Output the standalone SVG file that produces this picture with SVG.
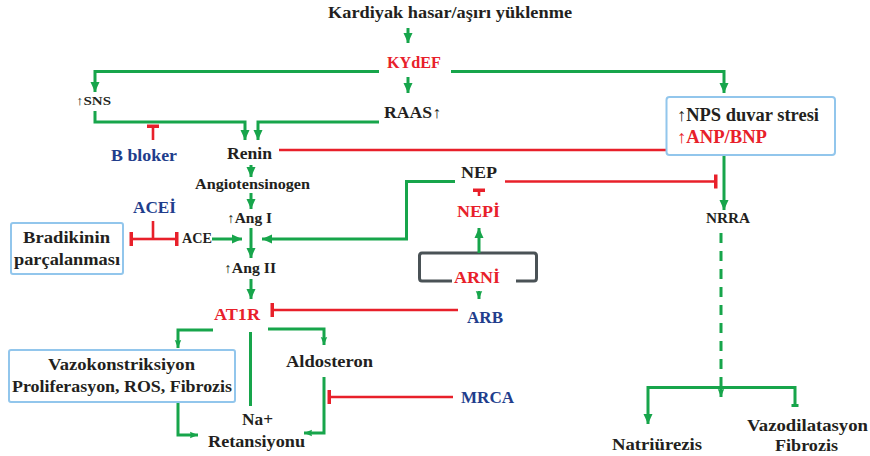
<svg xmlns="http://www.w3.org/2000/svg" width="870" height="456" viewBox="0 0 870 456">
<defs>
<style>
text{font-family:"Liberation Serif","Times New Roman",serif;font-weight:bold;fill:#231f20}
.r{fill:#e8202a}.b{fill:#213d8c}
.g{fill:none;stroke:#17a54b;stroke-width:3}
.rl{fill:none;stroke:#e8202a;stroke-width:2.6}
.box{fill:#fff;stroke:#92c6ec;stroke-width:2}
.gray{fill:none;stroke:#4a5256;stroke-width:3}
.s13{font-size:13px}.s14{font-size:14px}.s15{font-size:15px}.s16{font-size:16px}.s17{font-size:17px}.s18{font-size:18px}
</style>
<marker id="ar" markerUnits="userSpaceOnUse" markerWidth="10" markerHeight="10" viewBox="0 0 10 10" refX="10" refY="5" orient="auto"><path d="M0,0.5 L10,5 L0,9.5 z" fill="#17a54b"/></marker>
<marker id="ars" markerUnits="userSpaceOnUse" markerWidth="8" markerHeight="8" viewBox="0 0 10 10" refX="10" refY="5" orient="auto"><path d="M0,1 Q2,5 0,9 L10,5 z" fill="#17a54b"/></marker>
<marker id="tee" markerUnits="userSpaceOnUse" markerWidth="4" markerHeight="16" viewBox="0 0 4 16" refX="3" refY="8" orient="auto"><rect x="0" y="1" width="3.5" height="14" fill="#e8202a"/></marker>
<marker id="teeS" markerUnits="userSpaceOnUse" markerWidth="4" markerHeight="14" viewBox="0 0 4 14" refX="3" refY="7" orient="auto"><rect x="0" y="1" width="3.5" height="12" fill="#e8202a"/></marker>
<marker id="teeG" markerUnits="userSpaceOnUse" markerWidth="3" markerHeight="8" viewBox="0 0 3 8" refX="2" refY="4" orient="auto"><rect x="0" y="0.5" width="3" height="7" fill="#17a54b"/></marker>
</defs>

<g id="connectors">
<line class="g" x1="408" y1="28" x2="408" y2="43" marker-end="url(#ar)"/>
<line class="g" x1="408" y1="77" x2="408" y2="93" marker-end="url(#ar)"/>
<path class="g" d="M379,71.5 H95 V92" marker-end="url(#ar)"/>
<path class="g" d="M451,71.5 H724 V93" marker-end="url(#ar)"/>
<path class="g" d="M95,111 V122 H245 V140" marker-end="url(#ar)"/>
<path class="g" d="M379,122 H258 V140" marker-end="url(#ar)"/>
<line class="rl" x1="153" y1="140" x2="153" y2="125" marker-end="url(#teeS)"/>
<line class="rl" x1="279" y1="150" x2="667" y2="150"/>
<line class="g" x1="251" y1="165" x2="251" y2="177" marker-end="url(#ar)"/>
<line class="g" x1="251" y1="193" x2="251" y2="209" marker-end="url(#ar)"/>
<line class="g" x1="212" y1="239" x2="242" y2="239" marker-end="url(#ar)"/>
<line class="g" x1="251" y1="228" x2="251" y2="258" marker-end="url(#ar)"/>
<path class="g" d="M455,181.5 H406.5 V239 H262" marker-end="url(#ar)"/>
<line class="g" x1="251" y1="279" x2="251" y2="299" marker-end="url(#ar)"/>
<line class="rl" x1="153" y1="239" x2="130" y2="239" marker-end="url(#tee)"/>
<line class="rl" x1="153" y1="239" x2="178" y2="239" marker-end="url(#tee)"/>
<line class="rl" x1="153" y1="221" x2="153" y2="239"/>
<line class="rl" x1="458" y1="310" x2="271" y2="310" marker-end="url(#tee)"/>
<line class="rl" x1="505" y1="181.5" x2="717" y2="181.5" marker-end="url(#tee)"/>
<line class="rl" x1="479" y1="196" x2="479" y2="189" marker-end="url(#teeS)"/>
<path class="gray" d="M452,281 H422 Q419.5,281 419.5,278 V256 Q419.5,253 422,253 H534 Q536.5,253 536.5,256 V278 Q536.5,281 534,281 H516"/>
<line class="g" x1="479" y1="253" x2="479" y2="228" marker-end="url(#ar)"/>
<line class="g" x1="479" y1="291" x2="479" y2="299" marker-end="url(#ars)"/>
<line class="g" x1="724" y1="155" x2="724" y2="210" marker-end="url(#ar)"/>
<line class="g" x1="721" y1="233" x2="721" y2="386" stroke-dasharray="10 8"/>
<line class="g" x1="721" y1="386" x2="721" y2="397" marker-end="url(#ars)"/>
<path class="g" d="M721,387.5 H648 V424" marker-end="url(#ar)"/>
<path class="g" d="M721,387.5 H795 V406" marker-end="url(#teeG)"/>
<path class="g" d="M213,330 H178 V348" marker-end="url(#ars)"/>
<path class="g" d="M268,329 H324 V345" marker-end="url(#ars)"/>
<line class="g" x1="250.5" y1="332" x2="250.5" y2="406"/>
<path class="g" d="M178,402 V435 H198" marker-end="url(#ars)"/>
<path class="g" d="M324,377 V433 H304" marker-end="url(#ars)"/>
<line class="rl" x1="453" y1="397" x2="328" y2="397" marker-end="url(#tee)"/>
</g>

<g id="n-title"><text class="s17" x="328" y="18" textLength="244" lengthAdjust="spacingAndGlyphs">Kardiyak hasar/aşırı yüklenme</text></g>
<g id="n-kydef"><text class="s17 r" x="387" y="68" textLength="54" lengthAdjust="spacingAndGlyphs">KYdEF</text></g>
<g id="n-sns"><text class="s13" x="76" y="105" textLength="35" lengthAdjust="spacingAndGlyphs">↑SNS</text></g>
<g id="n-raas"><text class="s16" x="384" y="118" textLength="57" lengthAdjust="spacingAndGlyphs">RAAS↑</text></g>
<g id="n-bbloker"><text class="s17 b" x="111" y="161" textLength="66" lengthAdjust="spacingAndGlyphs">B bloker</text></g>
<g id="n-renin"><text class="s17" x="227" y="159" textLength="45" lengthAdjust="spacingAndGlyphs">Renin</text></g>
<g id="n-angiotensinogen"><text class="s14" x="195" y="189" textLength="115" lengthAdjust="spacingAndGlyphs">Angiotensinogen</text></g>
<g id="n-ang1"><text class="s14" x="227" y="223" textLength="45" lengthAdjust="spacingAndGlyphs">↑Ang I</text></g>
<g id="n-ace"><text class="s14" x="182" y="243" textLength="30" lengthAdjust="spacingAndGlyphs">ACE</text></g>
<g id="n-ang2"><text class="s14" x="224" y="273" textLength="52" lengthAdjust="spacingAndGlyphs">↑Ang II</text></g>
<g id="n-at1r"><text class="s17 r" x="214" y="320" textLength="46" lengthAdjust="spacingAndGlyphs">AT1R</text></g>
<g id="n-acei"><text class="s17 b" x="133" y="213" textLength="43" lengthAdjust="spacingAndGlyphs">ACEİ</text></g>
<g id="n-bradikinin">
<rect class="box" x="11" y="223" width="112" height="51" rx="2"/>
<text class="s17" x="23" y="243" textLength="87" lengthAdjust="spacingAndGlyphs">Bradikinin</text>
<text class="s17" x="14" y="265" textLength="106" lengthAdjust="spacingAndGlyphs">parçalanması</text>
</g>
<g id="n-nep"><text class="s16" x="461" y="178" textLength="36" lengthAdjust="spacingAndGlyphs">NEP</text></g>
<g id="n-nepi"><text class="s16 r" x="457" y="217" textLength="43" lengthAdjust="spacingAndGlyphs">NEPİ</text></g>
<g id="n-arni"><text class="s17 r" x="454" y="283" textLength="46" lengthAdjust="spacingAndGlyphs">ARNİ</text></g>
<g id="n-arb"><text class="s16 b" x="467" y="323" textLength="36" lengthAdjust="spacingAndGlyphs">ARB</text></g>
<g id="n-nps">
<rect class="box" x="666.5" y="97" width="168.5" height="58" rx="3"/>
<text class="s18" x="677" y="121" textLength="142" lengthAdjust="spacingAndGlyphs">↑NPS duvar stresi</text>
<text class="s18 r" x="677" y="143" textLength="90" lengthAdjust="spacingAndGlyphs">↑ANP/BNP</text>
</g>
<g id="n-nrra"><text class="s15" x="706" y="223" textLength="44" lengthAdjust="spacingAndGlyphs">NRRA</text></g>
<g id="n-mrca"><text class="s16 b" x="461" y="403" textLength="53" lengthAdjust="spacingAndGlyphs">MRCA</text></g>
<g id="n-aldosteron"><text class="s17" x="286" y="367" textLength="87" lengthAdjust="spacingAndGlyphs">Aldosteron</text></g>
<g id="n-vazo">
<rect class="box" x="9" y="350" width="226" height="52" rx="2"/>
<text class="s17" x="48" y="370" textLength="147" lengthAdjust="spacingAndGlyphs">Vazokonstriksiyon</text>
<text class="s17" x="12" y="392" textLength="220" lengthAdjust="spacingAndGlyphs">Proliferasyon, ROS, Fibrozis</text>
</g>
<g id="n-na">
<text class="s17" x="242" y="425" textLength="31" lengthAdjust="spacingAndGlyphs">Na+</text>
<text class="s17" x="208" y="447" textLength="97" lengthAdjust="spacingAndGlyphs">Retansiyonu</text>
</g>
<g id="n-natriurezis"><text class="s17" x="612" y="450" textLength="90" lengthAdjust="spacingAndGlyphs">Natriürezis</text></g>
<g id="n-vazodilatasyon">
<text class="s17" x="747" y="431" textLength="121" lengthAdjust="spacingAndGlyphs">Vazodilatasyon</text>
<text class="s17" x="775" y="451" textLength="63" lengthAdjust="spacingAndGlyphs">Fibrozis</text>
</g>
</svg>
